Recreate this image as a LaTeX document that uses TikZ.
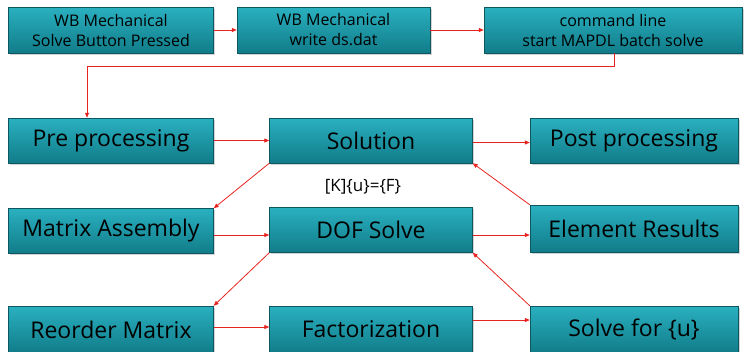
\documentclass[tikz,border=0pt]{standalone}
\usepackage{fontspec}
\setmainfont{Open Sans}
\usetikzlibrary{arrows.meta,shadows}
\definecolor{tealtop}{HTML}{2AB0C0}
\definecolor{tealbot}{HTML}{117C89}
\definecolor{arr}{HTML}{E8231F}
\tikzset{
  box/.style={draw=tealbot!70!black, line width=0.4pt, top color=tealtop, bottom color=tealbot,
    inner sep=0pt, align=center, text=black,
    drop shadow={shadow xshift=1.5pt, shadow yshift=-1.5pt, opacity=0.35}},
  smallbox/.style={box, font=\fontsize{16}{20}\selectfont},
  bigbox/.style={box, font=\fontsize{23}{26}\selectfont},
  conn/.style={draw=arr, line width=0.8pt, -{Triangle[length=5pt,width=4pt]}},
}
\begin{document}
\begin{tikzpicture}[x=1pt,y=1pt]
\useasboundingbox (0,0) rectangle (744,-351);
% top row
\node[smallbox, minimum width=205pt, minimum height=46pt] (wb1) at (111,-30) {WB Mechanical\\Solve Button Pressed};
\node[smallbox, minimum width=193pt, minimum height=46pt] (wb2) at (333.5,-30) {WB Mechanical\\write ds.dat};
\node[smallbox, minimum width=258pt, minimum height=46pt] (cmd) at (613,-30) {command line\\start MAPDL batch solve};
% row 2
\node[bigbox, minimum width=205pt, minimum height=45pt] (pre) at (111,-140.5) {Pre processing};
\node[bigbox, minimum width=203pt, minimum height=45pt] (sol) at (371,-140.5) {Solution};
\node[bigbox, minimum width=208pt, minimum height=45pt] (post) at (634,-140.5) {Post processing};
% row 3
\node[bigbox, minimum width=205pt, minimum height=45pt] (mat) at (111,-231) {Matrix Assembly};
\node[bigbox, minimum width=203pt, minimum height=45pt] (dof) at (371,-230) {DOF Solve};
\node[bigbox, minimum width=208pt, minimum height=47pt] (elem) at (634,-228.5) {Element Results};
% row 4
\node[bigbox, minimum width=205pt, minimum height=47pt] (reo) at (111,-329.5) {Reorder Matrix};
\node[bigbox, minimum width=203pt, minimum height=47pt] (fac) at (371,-329.5) {Factorization};
\node[bigbox, minimum width=208pt, minimum height=47pt] (sfu) at (634,-329.5) {Solve for \{u\}};
% equation
\node[font=\fontsize{17}{18}\selectfont] (eq) at (363,-186.5) {[K]\{u\}=\{F\}};
% connectors
\draw[conn] (wb1.east) -- (wb2.west);
\draw[conn] (wb2.east) -- (cmd.west);
\coordinate (c1) at (614,-66);
\coordinate (c2) at (87,-66);
\draw[conn] (cmd.south -| c1) -- (c1) -- (c2) -- (c2 |- pre.north);
\draw[conn] ([yshift=0pt]pre.east) -- ([yshift=0pt]pre.east -| sol.west);
\draw[conn] ([yshift=-2pt]sol.east) -- ([yshift=-2pt]sol.east -| post.west);
\draw[conn] (sol.south west) -- (mat.north east);
\draw[conn] ([yshift=-4pt]mat.east) -- ([yshift=-4pt]mat.east -| dof.west);
\draw[conn] ([yshift=-5pt]dof.east) -- ([yshift=-5pt]dof.east -| elem.west);
\draw[conn] (elem.north west) -- (sol.south east);
\draw[conn] (dof.south west) -- (reo.north east);
\draw[conn] ([yshift=2.5pt]reo.east) -- ([yshift=2.5pt]reo.east -| fac.west);
\draw[conn] ([yshift=9.5pt]fac.east) -- ([yshift=9.5pt]fac.east -| sfu.west);
\draw[conn] (sfu.north west) -- (dof.south east);
\end{tikzpicture}
\end{document}
